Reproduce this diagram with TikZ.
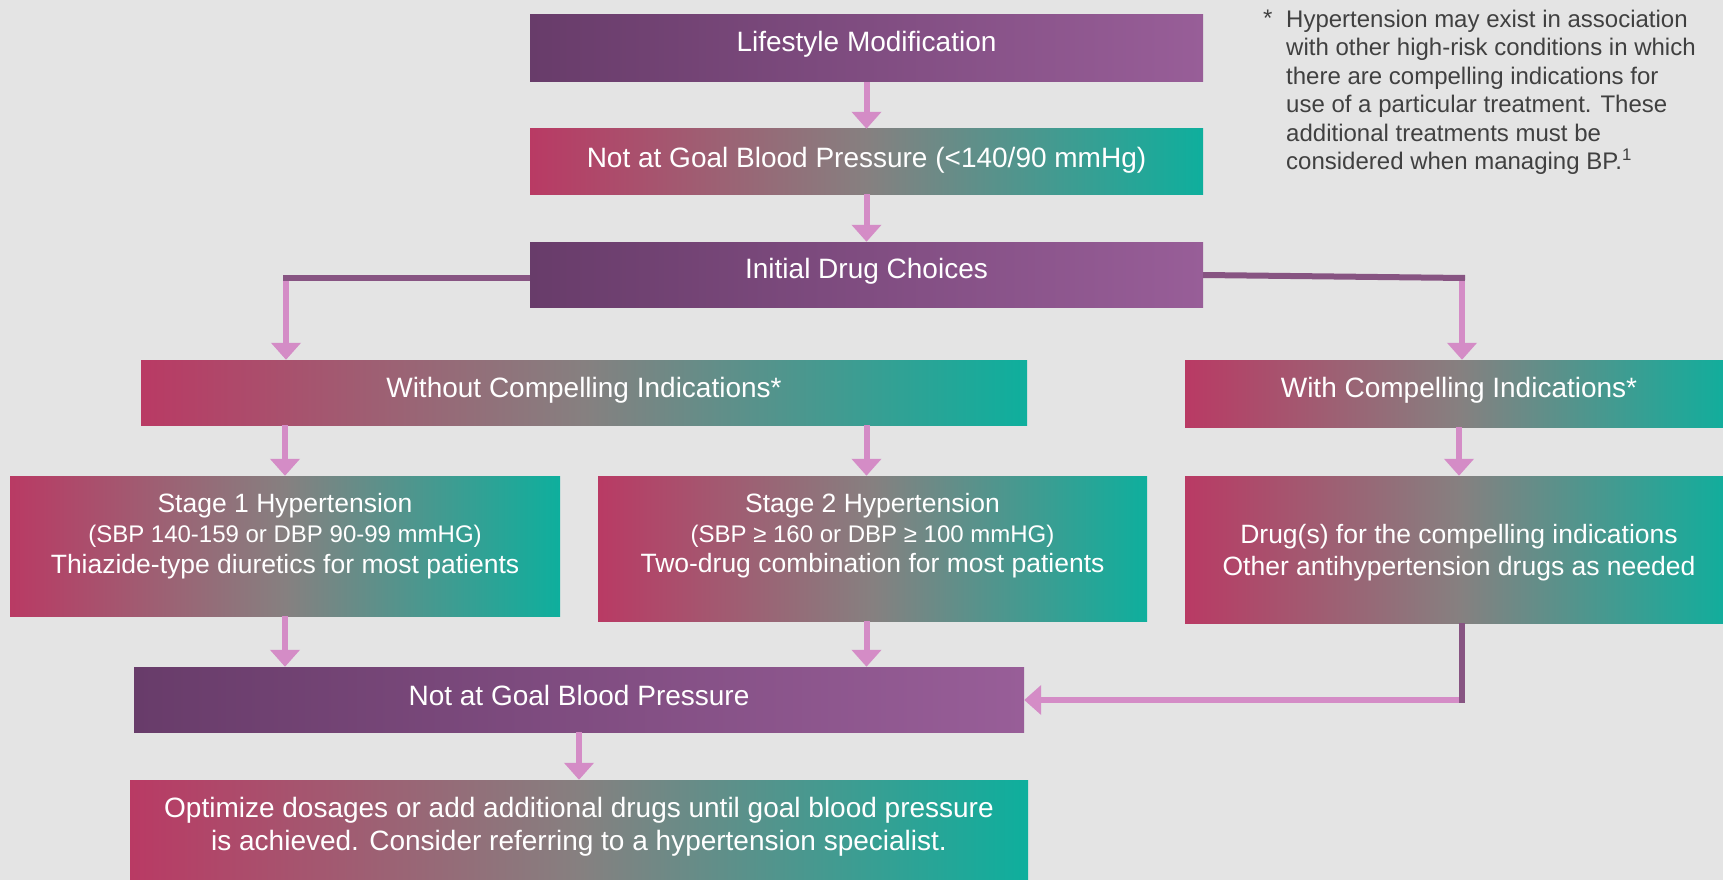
\documentclass[tikz,border=0pt]{standalone}
\usepackage{fontspec}
\setmainfont{Liberation Sans}
\usetikzlibrary{arrows.meta}

\definecolor{bgc}{RGB}{228,228,228}
\definecolor{plumL}{RGB}{104,60,106}
\definecolor{plumR}{RGB}{152,94,152}
\definecolor{roseL}{RGB}{185,58,100}
\definecolor{midG}{RGB}{134,128,128}
\definecolor{tealR}{RGB}{14,175,157}
\definecolor{arrowpink}{RGB}{212,140,198}
\definecolor{linkplum}{RGB}{135,84,130}
\definecolor{fngray}{RGB}{64,64,64}

% invisible struts that fix the vertical extent of a node's text
\newcommand{\HiRule}[1]{\rule{0pt}{#1pt}}
\newcommand{\LoRule}[1]{\rule[-#1pt]{0pt}{#1pt}}

\tikzset{
  box/.style={rectangle, inner sep=0pt, text=white, align=center,
    font=\fontsize{28}{33}\selectfont},
  plumbox/.style={box, left color=plumL, right color=plumR},
  rosebox/.style={box, left color=roseL, right color=tealR, middle color=midG},
  smallbox/.style={font=\fontsize{26.5}{30.5}\selectfont},
  parrow/.style={draw=arrowpink, line width=6pt, -{Triangle[width=29pt,length=17pt]}},
  pline/.style={draw=linkplum, line width=6pt},
  fnote/.style={inner sep=0pt, text=fngray, font=\fontsize{24}{28.5}\selectfont},
}

\begin{document}
\begin{tikzpicture}[x=1pt, y=-1pt]
\useasboundingbox (0,0) rectangle (1723,880);
\clip (0,0) rectangle (1723,880);
\fill[bgc] (0,0) rectangle (1723,880);

% main column
\node[plumbox, minimum width=673pt, minimum height=67pt] (life) at (866.5,48.5)
  {\HiRule{22}Lifestyle Modification\LoRule{15}};
\node[rosebox, minimum width=673pt, minimum height=65pt] (goal1) at (866.5,161.5)
  {\HiRule{22}Not at Goal Blood Pressure (<140/90 mmHg)\LoRule{11}};
\node[plumbox, minimum width=673pt, minimum height=65pt] (init) at (866.5,274.5)
  {\HiRule{22}Initial Drug Choices\LoRule{15}};

% branches
\node[rosebox, minimum width=886pt, minimum height=65pt] (without) at (584,392.5)
  {\HiRule{22}Without Compelling Indications*\LoRule{13}};
\node[rosebox, minimum width=548pt, minimum height=67pt] (with) at (1459,393.5)
  {\HiRule{22}With Compelling Indications*\LoRule{15}};

\node[rosebox, smallbox, minimum width=550pt, minimum height=140pt] (stage1) at (285,546)
  {\HiRule{22}Stage 1 Hypertension\\
   {\fontsize{24}{30.5}\selectfont (SBP 140-159 or DBP 90-99 mmHG)}\\
   Thiazide-type diuretics for most patients\LoRule{29}};
\node[rosebox, font=\fontsize{26.5}{30}\selectfont, minimum width=549pt, minimum height=145pt] (stage2) at (872.5,548.5)
  {\HiRule{22}Stage 2 Hypertension\\
   {\fontsize{24}{30}\selectfont (SBP ≥ 160 or DBP ≥ 100 mmHG)}\\
   Two-drug combination for most patients\LoRule{35}};
\node[rosebox, font=\fontsize{26.5}{32}\selectfont, minimum width=548pt, minimum height=147pt] (drug) at (1459,549.5)
  {\HiRule{40}Drug(s) for the compelling indications\\
   Other antihypertension drugs as needed\LoRule{21}};

\node[plumbox, minimum width=890pt, minimum height=65pt] (goal2) at (579,699.5)
  {\HiRule{22}Not at Goal Blood Pressure\LoRule{11}};
\node[rosebox, minimum width=898pt, minimum height=110pt] (opt) at (579,835)
  {\HiRule{22}Optimize dosages or add additional drugs until goal blood pressure\\
   is achieved. Consider referring to a hypertension specialist.\LoRule{25}};

% footnote
\node[fnote, anchor=base west] (fnstar) at (1263,27) {*};
\node[fnote, anchor=north west, align=left] (fn) at (1286,7)
  {\HiRule{20}Hypertension may exist in association\\
   with other high-risk conditions in which\\
   there are compelling indications for\\
   use of a particular treatment. These\\
   additional treatments must be\\
   considered when managing BP.\textsuperscript{1}};

% connectors
\coordinate (jl) at (286,278);
\coordinate (jr) at (1462,278);
\coordinate (jd) at (1462,700);

\draw[parrow] (life) -- (goal1);
\draw[parrow] (goal1) -- (init);

\draw[parrow] (jl) -- (jl |- without.north);
\draw[pline] ([yshift=-3.5pt]init.west) -- ([xshift=-3pt]jl);
\draw[parrow] (jr) -- (jr |- with.north);
\draw[pline] ([yshift=-0.5pt]init.east) -- ([xshift=3pt]jr);

\draw[parrow] (stage1 |- without.south) -- (stage1.north);
\draw[parrow] (life |- without.south) -- (life |- stage2.north);
\draw[parrow] (with) -- (drug);

\draw[parrow] (stage1.south) -- (stage1.south |- goal2.north);
\draw[parrow] (life |- stage2.south) -- (life |- goal2.north);
\draw[parrow] (jd) -- (goal2.east |- jd);
\draw[pline] (drug.south -| jd) -- ([yshift=-3pt]jd);

\draw[parrow] (goal2) -- (opt);
\end{tikzpicture}
\end{document}
